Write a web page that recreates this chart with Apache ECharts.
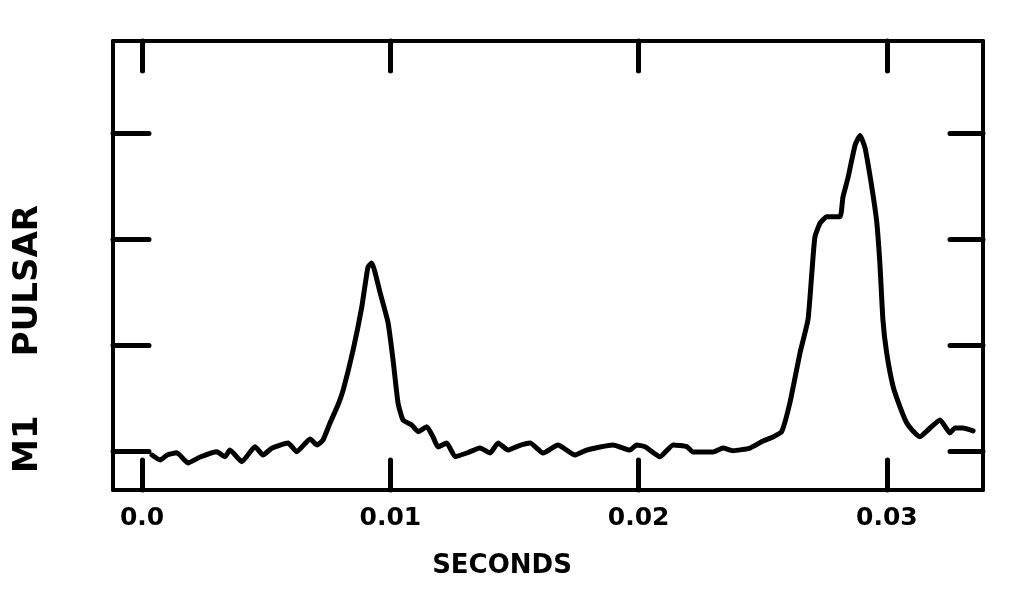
<!DOCTYPE html>
<html>
<head>
<meta charset="utf-8">
<script src="https://cdn.jsdelivr.net/npm/echarts@6/dist/echarts.min.js"></script>
<style>
html,body{margin:0;padding:0;background:#fff;}
#chart{width:1033px;height:593px;}
</style>
</head>
<body>
<div id="chart"></div>
<script>
// time (seconds)
const timeSec = [0.00040,0.00073,0.00101,0.00140,0.00185,0.00234,0.00301,0.00334,0.00354,0.00402,0.00455,0.00487,0.00524,0.00588,0.00623,0.00677,0.00705,0.00729,0.00757,0.00789,0.00810,0.00850,0.00885,0.00910,0.00925,0.00959,0.00991,0.01011,0.01031,0.01051,0.01086,0.01112,0.01147,0.01172,0.01192,0.01227,0.01261,0.01308,0.01361,0.01402,0.01434,0.01474,0.01514,0.01563,0.01615,0.01675,0.01744,0.01791,0.01845,0.01897,0.01965,0.01992,0.02026,0.02086,0.02139,0.02194,0.02219,0.02300,0.02340,0.02380,0.02449,0.02501,0.02541,0.02576,0.02610,0.02650,0.02682,0.02697,0.02710,0.02731,0.02758,0.02811,0.02823,0.02843,0.02872,0.02892,0.02912,0.02939,0.02959,0.02972,0.02984,0.02999,0.03025,0.03053,0.03080,0.03105,0.03133,0.03174,0.03214,0.03254,0.03274,0.03307,0.03347];
// pulse intensity (arbitrary units, one unit per tick)
const intensity = [-0.038,-0.085,-0.038,-0.016,-0.113,-0.057,-0.007,-0.054,0.009,-0.101,0.041,-0.038,0.028,0.075,-0.007,0.113,0.057,0.104,0.264,0.434,0.575,0.953,1.358,1.736,1.774,1.491,1.208,0.858,0.453,0.292,0.245,0.182,0.229,0.132,0.038,0.075,-0.054,-0.019,0.028,-0.019,0.075,0.009,0.047,0.075,-0.019,0.057,-0.038,0.009,0.038,0.057,0.009,0.057,0.041,-0.054,0.057,0.041,-0.009,-0.009,0.028,0.003,0.028,0.094,0.132,0.182,0.462,0.925,1.236,1.660,2.019,2.151,2.210,2.210,2.396,2.575,2.887,2.976,2.858,2.491,2.160,1.755,1.236,0.925,0.607,0.415,0.264,0.189,0.135,0.217,0.292,0.170,0.217,0.217,0.189];
const xTickValues = [0, 0.01, 0.02, 0.03];
const xTickLabels = ['0.0', '0.01', '0.02', '0.03'];
const yTickValues = [0, 1, 2, 3];
const xTitle = 'SECONDS';
const yTitle = 'M1     PULSAR';

const data = timeSec.map((t, i) => [t, intensity[i]]);
const chart = echarts.init(document.getElementById('chart'));
const X_MIN = -0.00117, X_MAX = 0.03387, Y_MIN = -0.368, Y_MAX = 3.868;
const fontFam = '"DejaVu Sans", sans-serif';

function xAxisDef(pos, showLabels) {
  return {
    type: 'value', position: pos, min: X_MIN, max: X_MAX,
    splitLine: {show: false},
    axisLine: {show: true, onZero: false, lineStyle: {color: '#000', width: 4}},
    axisTick: {show: true, inside: true, length: 30, customValues: xTickValues, lineStyle: {color: '#000', width: 5, cap: 'round'}},
    axisLabel: {show: showLabels, customValues: xTickValues, margin: 16, color: '#000', fontSize: 25, fontWeight: 'bold', fontFamily: fontFam,
      formatter: v => { let b = 0; xTickValues.forEach((tv, i) => { if (Math.abs(tv - v) < Math.abs(xTickValues[b] - v)) b = i; }); return xTickLabels[b]; }}
  };
}
function yAxisDef(pos, len) {
  return {
    type: 'value', position: pos, min: Y_MIN, max: Y_MAX,
    splitLine: {show: false},
    axisLine: {show: true, onZero: false, lineStyle: {color: '#000', width: 4}},
    axisTick: {show: true, inside: true, length: len, customValues: yTickValues, lineStyle: {color: '#000', width: 5, cap: 'round'}},
    axisLabel: {show: false}
  };
}

chart.setOption({
  animation: false,
  backgroundColor: '#fff',
  grid: {left: 113, right: 50, top: 41, bottom: 103},
  xAxis: [xAxisDef('bottom', true), xAxisDef('top', false)],
  yAxis: [yAxisDef('left', 36), yAxisDef('right', 33)],
  graphic: [
    {type: 'text', x: 502, y: 566, style: {text: xTitle, fill: '#000', font: 'bold 26px ' + fontFam, align: 'center', verticalAlign: 'middle'}},
    {type: 'text', x: 28, y: 339, rotation: Math.PI / 2,
      style: {text: yTitle, fill: '#000', font: 'bold 34px ' + fontFam, align: 'center', verticalAlign: 'middle'}}
  ],
  series: [{
    type: 'line', data: data, showSymbol: false, smooth: 0.15,
    lineStyle: {color: '#000', width: 5, join: 'round', cap: 'round'}
  }]
});
</script>
</body>
</html>
